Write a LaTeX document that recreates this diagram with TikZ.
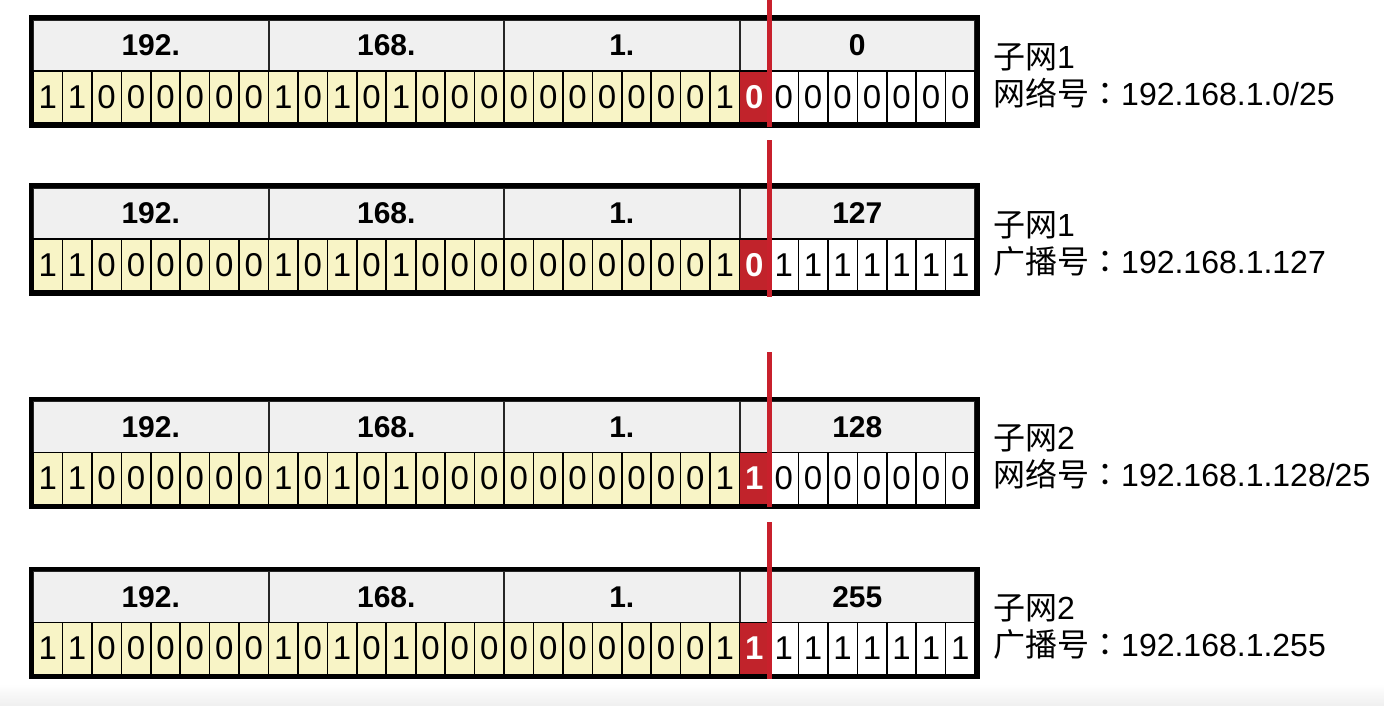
\documentclass[tikz,border=0pt]{standalone}
\usepackage{fontspec}
\setmainfont{Liberation Sans}
\newfontfamily\cjk{Noto Sans CJK SC}
\newfontfamily\cjktc{Noto Sans CJK TC}
\definecolor{bityellow}{HTML}{F8F4C6}
\definecolor{hdrgray}{HTML}{F0F0F0}
\definecolor{bitred}{HTML}{C1232B}
\definecolor{linered}{HTML}{C8202C}
\tikzset{
  hdrcell/.style={rectangle,draw=black!85,line width=2pt,fill=hdrgray,inner sep=0pt,
    minimum width=235.52pt,minimum height=51.25pt,font=\fontsize{30}{30}\selectfont\bfseries},
  bitcell/.style={rectangle,draw=black,line width=1.6pt,inner sep=0pt,
    minimum width=29.44pt,minimum height=52.25pt,font=\fontsize{33}{33}\selectfont},
  redcell/.style={bitcell,fill=bitred,text=white,font=\fontsize{33}{33}\selectfont\bfseries},
  outerbox/.style={draw=black,line width=4.5pt},
  lbl/.style={anchor=base west,inner sep=0pt,font=\fontsize{32}{37}\selectfont},
  redline/.style={draw=linered,line width=4.4pt}
}
\newcommand{\ipblock}[7]{%
  \foreach \lab [count=\k from 0] in {192.,168.,1.,#3}{
    \node[hdrcell] (#1-h\k) at ({33+(\k*8+4)*29.44},{#2+27.9}) {\lab};
  }
  \foreach \b [count=\k from 0] in {1,1,0,0,0,0,0,0,1,0,1,0,1,0,0,0,0,0,0,0,0,0,0,1}{
    \node[bitcell,fill=bityellow] (#1-b\k) at ({33+(\k+0.5)*29.44},{#2+79.6}) {\b};
  }
  \node[redcell] (#1-b24) at ({33+24.5*29.44},{#2+79.6}) {#4};
  \foreach \b [count=\k from 25] in {#5}{
    \node[bitcell,fill=white] (#1-b\k) at ({33+(\k+0.5)*29.44},{#2+79.6}) {\b};
  }
  \draw[outerbox] (31,#2) rectangle (977.5,{#2+108});
  \node[lbl] (#1-l1) at (993,{#2+50.5}) {#6};
  \node[lbl] (#1-l2) at (993,{#2+87.5}) {#7};
}
\begin{document}
\begin{tikzpicture}[x=1pt,y=-1pt]
\useasboundingbox (0,0) rectangle (1384,705);
\fill[white] (0,0) rectangle (1384,705);
\shade[top color=white,bottom color=black!6] (0,684) rectangle (1384,705);

\ipblock{A}{17.5}{0}{0}{0,0,0,0,0,0,0}{{\cjk 子网}1}{{\cjk 网络号}{\cjktc ：}192.168.1.0/25}
\ipblock{B}{185.5}{127}{0}{1,1,1,1,1,1,1}{{\cjk 子网}1}{{\cjk 广播号}{\cjktc ：}192.168.1.127}
\ipblock{C}{399}{128}{1}{0,0,0,0,0,0,0}{{\cjk 子网}2}{{\cjk 网络号}{\cjktc ：}192.168.1.128/25}
\ipblock{D}{569}{255}{1}{1,1,1,1,1,1,1}{{\cjk 子网}2}{{\cjk 广播号}{\cjktc ：}192.168.1.255}

\coordinate (r1a) at (769.5,0);   \coordinate (r1b) at (769.5,127);
\coordinate (r2a) at (769.5,140); \coordinate (r2b) at (769.5,297);
\coordinate (r3a) at (769.5,352); \coordinate (r3b) at (769.5,507);
\coordinate (r4a) at (769.5,522); \coordinate (r4b) at (769.5,679);
\draw[redline] (r1a) -- (r1b);
\draw[redline] (r2a) -- (r2b);
\draw[redline] (r3a) -- (r3b);
\draw[redline] (r4a) -- (r4b);
\end{tikzpicture}
\end{document}
